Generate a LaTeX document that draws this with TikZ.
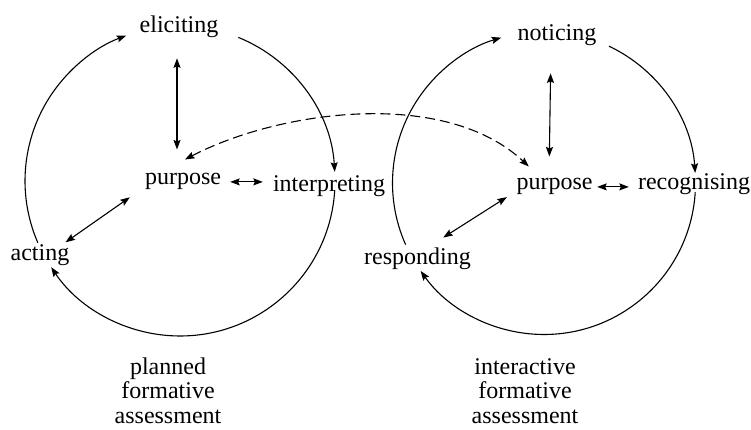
\documentclass[tikz,border=0pt]{standalone}
\usepackage{fontspec}
\setmainfont{Liberation Serif}
\usetikzlibrary{arrows.meta}
\begin{document}
\begin{tikzpicture}[x=1pt,y=1pt,
  lbl/.style={font=\fontsize{24}{24.5}\selectfont, inner sep=0pt, anchor=base},
  cap3/.style={lbl, align=center},
  tip/.tip={Stealth[length=9.5pt,width=7pt,inset=1.5pt]},
  cyc/.style={line width=1.1pt, -tip},
  dbl/.style={line width=1.1pt, tip-tip},
  dsh/.style={line width=1.1pt, tip-tip, dash pattern=on 10pt off 5pt}
  ]
\useasboundingbox[fill=white] (0,0) rectangle (751,430);

% centres of the two cycles
\coordinate (L) at (180,249);
\coordinate (R) at (544,247);

% left cycle labels
\node[lbl] (elic)   at (179,397)   {eliciting};
\node[lbl] (lp)     at (183,245)   {purpose};
\node[lbl] (interp) at (329,238)   {interpreting};
\node[lbl] (act)    at (40,169)    {acting};

% right cycle labels
\node[lbl] (notc)   at (557,389)   {noticing};
\node[lbl] (rp)     at (554.5,240) {purpose};
\node[lbl] (recog)  at (694,240)   {recognising};
\node[lbl] (resp)   at (417.5,165) {responding};

% captions (base anchor = baseline of the last line)
\node[cap3] (capl) at (168,6.5) {planned\\formative\\assessment};
\node[cap3] (capr) at (525,6.5) {interactive\\formative\\assessment};

% left cycle arcs
\draw[cyc] ([shift={(67.9:155)}]L) arc[start angle=67.9, end angle=3.4, radius=155];
\draw[cyc] ([shift={(-3.4:155)}]L) arc[start angle=-3.4, end angle=-146.2, radius=155];
\draw[cyc] ([shift={(203.5:155)}]L) arc[start angle=203.5, end angle=110.3, radius=155];

% right cycle arcs
\draw[cyc] ([shift={(64.6:151.5)}]R) arc[start angle=64.6, end angle=3.8, radius=151.5];
\draw[cyc] ([shift={(-3.5:151.5)}]R) arc[start angle=-3.5, end angle=-144.5, radius=151.5];
\draw[cyc] ([shift={(204:151.5)}]R) arc[start angle=204, end angle=106.4, radius=151.5];

% left inner arrows
\draw[dbl, shorten <=20pt, shorten >=24pt] ([xshift=-2pt]elic.south) -- ([xshift=-6pt]lp.north);
\draw[dbl, shorten <=9pt, shorten >=10pt] (lp.east) -- (lp.east -| interp.west);
\draw[dbl] ([shift={(-15pt,-7pt)}]lp.south west) -- ([shift={(-4pt,2.6pt)}]act.north east);

% right inner arrows
\draw[dbl, shorten <=27pt, shorten >=22pt] ([xshift=-6pt]notc.south) -- ([xshift=-5.5pt]rp.north);
\draw[dbl, shorten <=4.5pt, shorten >=9pt] (rp.east) -- (rp.east -| recog.west);
\draw[dbl] ([shift={(-9.5pt,-1.8pt)}]rp.south west) -- ([shift={(-27.8pt,10.6pt)}]resp.north east);

% dashed link between the two purposes
\draw[dsh] ([shift={(2pt,14pt)}]lp.north) .. controls (280,320) and (445,342) .. ([shift={(12.5pt,12pt)}]rp.north west);
\end{tikzpicture}
\end{document}
